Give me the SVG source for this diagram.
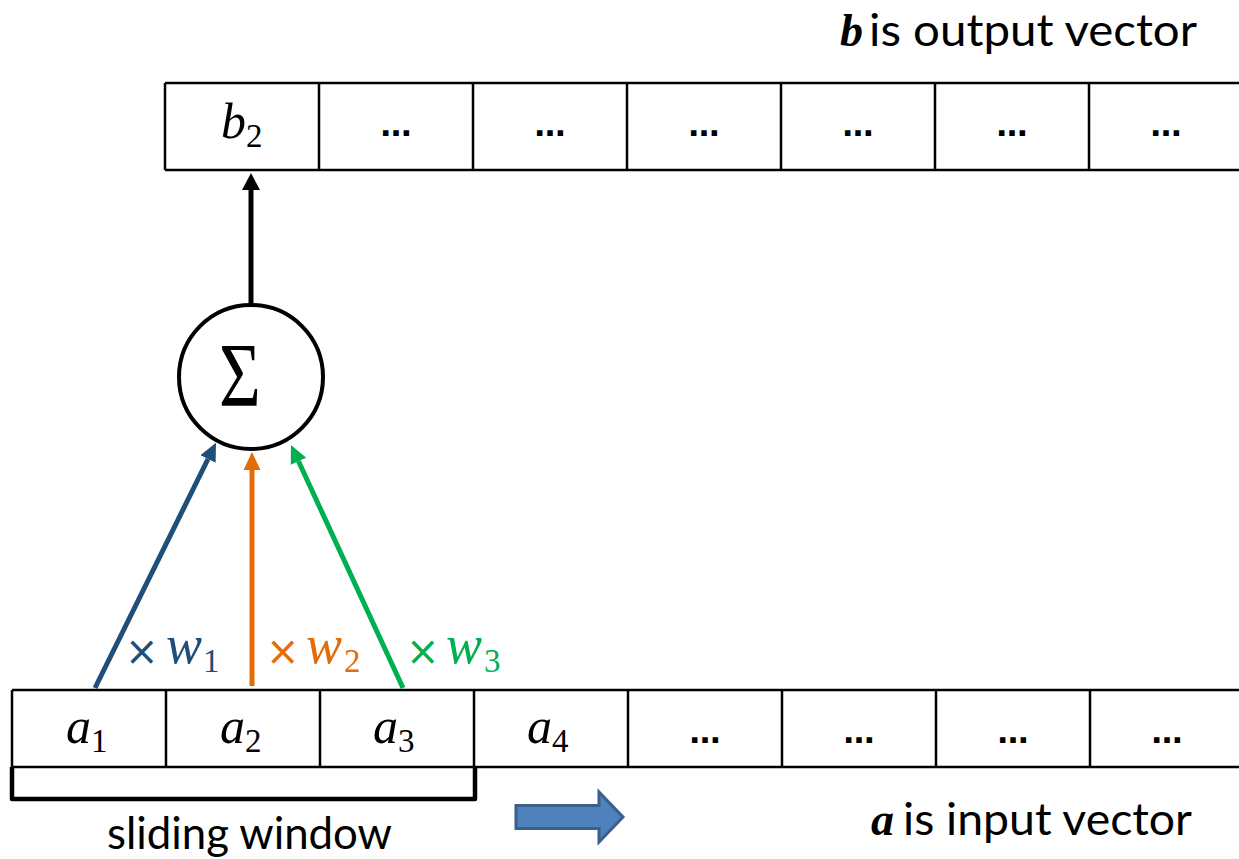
<svg xmlns="http://www.w3.org/2000/svg" width="1239" height="859" viewBox="0 0 1239 859">
<style>
.cell{fill:none;stroke:#000;stroke-width:2.5}
.math{font-family:"Liberation Serif",serif;font-style:italic;font-size:50px;fill:#000}
.sub{font-family:"Liberation Serif",serif;font-size:33px}
.dots{font-family:"DejaVu Sans",sans-serif;font-weight:bold;font-size:31px;text-anchor:middle;fill:#000}
.cap{font-family:Lato,"Open Sans",sans-serif;font-size:44px;fill:#000}
.bvec{font-family:"Liberation Serif",serif;font-style:italic;font-weight:bold;font-size:46px;fill:#000}
.times{font-family:"DejaVu Sans",sans-serif;font-size:40px}
.w{font-family:"Liberation Serif",serif;font-style:italic;font-size:54px}
.ws{font-family:"Liberation Serif",serif;font-size:33px}
</style>
<defs>
<marker id="hK" viewBox="0 -10 20 20" refX="0" refY="0" markerWidth="20" markerHeight="20" markerUnits="userSpaceOnUse" orient="auto"><path d="M0,-9 L17,0 L0,9 z" fill="#000"/></marker>
<marker id="hB" viewBox="0 -10 20 20" refX="0" refY="0" markerWidth="20" markerHeight="20" markerUnits="userSpaceOnUse" orient="auto"><path d="M0,-8.5 L18,0 L0,8.5 z" fill="#1F4E79"/></marker>
<marker id="hO" viewBox="0 -10 20 20" refX="0" refY="0" markerWidth="20" markerHeight="20" markerUnits="userSpaceOnUse" orient="auto"><path d="M0,-8.5 L18,0 L0,8.5 z" fill="#E36C09"/></marker>
<marker id="hG" viewBox="0 -10 20 20" refX="0" refY="0" markerWidth="20" markerHeight="20" markerUnits="userSpaceOnUse" orient="auto"><path d="M0,-8.5 L18,0 L0,8.5 z" fill="#00B050"/></marker>
</defs>
<rect width="1239" height="859" fill="#fff"/>

<g id="output-vector">
<path class="cell" d="M165,83 H1245 M165,170 H1245 M165,83 V170 M319,83 V170 M473,83 V170 M627,83 V170 M781,83 V170 M935,83 V170 M1089,83 V170"/>
<text class="math" x="221" y="138">b<tspan class="sub" font-style="normal" y="147">2</tspan></text>
<text class="dots" x="396" y="136">…</text>
<text class="dots" x="550" y="136">…</text>
<text class="dots" x="704" y="136">…</text>
<text class="dots" x="858" y="136">…</text>
<text class="dots" x="1012" y="136">…</text>
<text class="dots" x="1166" y="136">…</text>
<text class="bvec" x="840" y="46">b</text>
<text class="cap" x="869" y="46" textLength="328" lengthAdjust="spacingAndGlyphs">is output vector</text>
</g>

<g id="input-vector">
<path class="cell" d="M12,690 H1245 M12,767 H1245 M12,690 V767 M166,690 V767 M320,690 V767 M474,690 V767 M628,690 V767 M782,690 V767 M936,690 V767 M1090,690 V767"/>
<text class="math" x="66" y="743">a<tspan class="sub" font-style="normal" y="752">1</tspan></text>
<text class="math" x="220" y="743">a<tspan class="sub" font-style="normal" y="752">2</tspan></text>
<text class="math" x="373" y="743">a<tspan class="sub" font-style="normal" y="752">3</tspan></text>
<text class="math" x="527" y="743">a<tspan class="sub" font-style="normal" y="752">4</tspan></text>
<text class="dots" x="705" y="743">…</text>
<text class="dots" x="859" y="743">…</text>
<text class="dots" x="1013" y="743">…</text>
<text class="dots" x="1167" y="743">…</text>
<text class="bvec" x="871" y="835">a</text>
<text class="cap" x="903" y="835" textLength="289" lengthAdjust="spacingAndGlyphs">is input vector</text>
</g>

<g id="sliding-window">
<path d="M12,767 V799 H475 V767" fill="none" stroke="#000" stroke-width="4.5" stroke-linejoin="round"/>
<text class="cap" x="107" y="849" textLength="285" lengthAdjust="spacingAndGlyphs">sliding window</text>
<polygon points="516,805.5 599,805.5 599,792 623,817 599,842 599,828.5 516,828.5" fill="#4F81BD" stroke="#3A5F8C" stroke-width="3"/>
</g>

<g id="sum">
<circle cx="251" cy="377" r="72" fill="#fff" stroke="#000" stroke-width="4"/>
<text x="0" y="0" transform="translate(240,406) scale(0.78,1)" font-family="Liberation Serif, serif" font-size="92" text-anchor="middle" fill="#000">Σ</text>
</g>

<g id="connectors" fill="none" stroke-width="5">
<line x1="251" y1="305" x2="251" y2="190" stroke="#000" marker-end="url(#hK)"/>
<line x1="95" y1="688" x2="208" y2="459" stroke="#1F4E79" marker-end="url(#hB)"/>
<line x1="252" y1="686" x2="252" y2="470" stroke="#E36C09" marker-end="url(#hO)"/>
<line x1="403" y1="688" x2="298.5" y2="461.3" stroke="#00B050" marker-end="url(#hG)"/>
</g>

<g id="weights">
<text fill="#1F4E79"><tspan class="times" x="125" y="665">×</tspan><tspan class="w" x="166" y="663">w</tspan><tspan class="ws" x="203" y="672">1</tspan></text>
<text fill="#E36C09"><tspan class="times" x="266" y="665">×</tspan><tspan class="w" x="306" y="663">w</tspan><tspan class="ws" x="344" y="672">2</tspan></text>
<text fill="#00B050"><tspan class="times" x="406" y="665">×</tspan><tspan class="w" x="446" y="663">w</tspan><tspan class="ws" x="484" y="672">3</tspan></text>
</g>
</svg>
